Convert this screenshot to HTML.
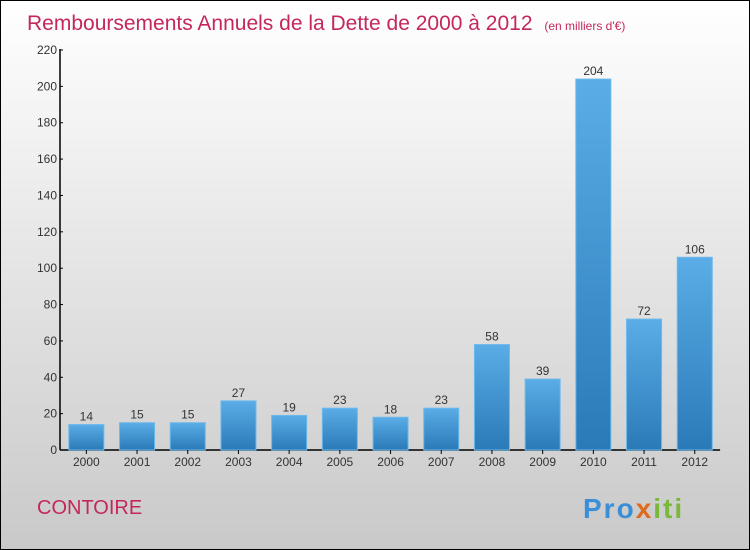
<!DOCTYPE html>
<html><head><meta charset="utf-8"><style>
body{margin:0;}
#c{position:relative;width:748px;height:548px;border:1px solid #000;background:linear-gradient(#fff,#c9c9c9);font-family:"Liberation Sans",sans-serif;overflow:hidden}
</style></head><body>
<div id="c">
<svg id="s" width="748" height="548">
<defs><linearGradient id="g" x1="0" y1="0" x2="0" y2="1"><stop offset="0" stop-color="#5aade6"/><stop offset="1" stop-color="#2a7ab8"/></linearGradient></defs>
<text x="26" y="29" font-size="21" fill="#c4285a">Remboursements Annuels de la Dette de 2000 à 2012 <tspan font-size="12" dx="6">(en milliers d'€)</tspan></text>
<text x="36" y="513" font-size="20" fill="#c4285a">CONTOIRE</text>
<text x="582" y="517" font-size="28" font-weight="bold" letter-spacing="2"><tspan fill="#3a8fd6">Pro</tspan><tspan fill="#e06a1c">x</tspan><tspan fill="#7ab83a">iti</tspan></text>
<g id="plot"></g>
</svg></div>
<script>
const categories=["2000","2001","2002","2003","2004","2005","2006","2007","2008","2009","2010","2011","2012"];
const values=[14,15,15,27,19,23,18,23,58,39,204,72,106];
const yTicks=[0,20,40,60,80,100,120,140,160,180,200,220];
const NS="http://www.w3.org/2000/svg";
const g=document.getElementById('plot');
const x0=60,slot=50.7,y0=449,ppu=400/220;
const y=v=>y0-v*ppu;
function mk(t,a,p){const e=document.createElementNS(NS,t);for(const k in a)e.setAttribute(k,a[k]);(p||g).appendChild(e);return e;}
let ax=mk('line',{x1:x0-1,y1:y(220)-1,x2:x0-1,y2:y0,stroke:'#000','stroke-width':1.5});


let bx=mk('line',{x1:x0-1,y1:y0,x2:x0+slot*13,y2:y0,stroke:'#000','stroke-width':1.5});


yTicks.forEach(v=>{
  mk('line',{x1:x0-1,y1:y(v),x2:x0+2,y2:y(v),stroke:'#000'});
  const t=mk('text',{x:x0-4,y:y(v)+4,'font-size':12,'text-anchor':'end',fill:'#333'});
  t.textContent=v;
  
  
});
categories.forEach((c,i)=>{
  const cx=x0+slot*i+slot/2;
  const r=mk('rect',{x:cx-17.5,y:y(values[i]),width:35,height:values[i]*ppu,fill:'url(#g)',stroke:'#6cb8ec','stroke-width':1});
  
  
  const l=mk('text',{x:cx,y:y(values[i])-4,'font-size':12,'text-anchor':'middle',fill:'#333'});
  l.textContent=values[i];
  
  
  mk('line',{x1:cx,y1:y0,x2:cx,y2:y0+4,stroke:'#000'});
  const t=mk('text',{x:cx,y:y0+16,'font-size':12,'text-anchor':'middle',fill:'#333'});
  t.textContent=c;
  
  
});
</script>
</body></html>
